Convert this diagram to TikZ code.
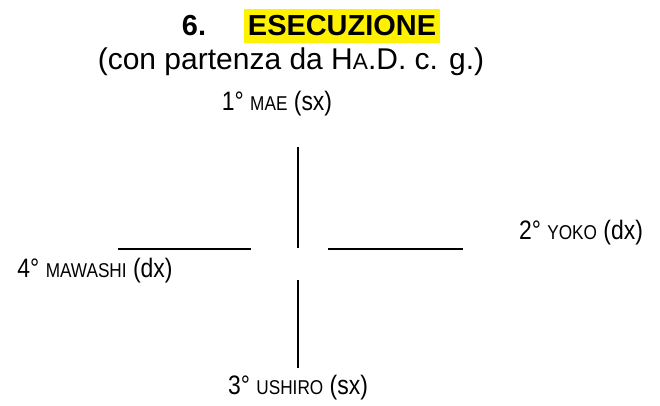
\documentclass[tikz,border=0pt]{standalone}
\usepackage{fontspec}
\setmainfont{Liberation Sans}
\newfontfamily\condfont[FakeStretch=0.86]{Liberation Sans}
\newcommand\mysc[1]{{\fontsize{15}{17}\selectfont #1}}
\begin{document}
\begin{tikzpicture}[x=0.75pt,y=-0.75pt,
  lbl/.style={inner sep=0pt,font=\condfont\fontsize{20}{22}\selectfont},
  ttl/.style={inner sep=0pt,font=\fontsize{21.7}{24}\selectfont\bfseries},
  leg/.style={line width=1.2pt,black}]
\useasboundingbox (0,0) rectangle (660,405);
\node[ttl] (num) at (194,26) {6.};
\node[ttl,fill=yellow,inner xsep=3pt,inner ysep=5pt] (head) at (342,26) {ESECUZIONE};
\node[inner sep=0pt,font=\fontsize{22.5}{25}\selectfont] (sub) at (291,62) {(con partenza da H{\fontsize{17}{19}\selectfont A}.D. c. g.)};
\node[lbl] (mae) at (277,104) {1° \mysc{MAE} (sx)};
\node[lbl] (yoko) at (581,233) {2° \mysc{YOKO} (dx)};
\node[lbl] (ushiro) at (298,388) {3° \mysc{USHIRO} (sx)};
\node[lbl] (mawashi) at (95,271) {4° \mysc{MAWASHI} (dx)};
\coordinate (t1) at (298,147); \coordinate (t2) at (298,248);
\coordinate (b1) at (298,280); \coordinate (b2) at (298,368);
\coordinate (l1) at (118,249); \coordinate (l2) at (251,249);
\coordinate (r1) at (328,249); \coordinate (r2) at (463,249);
\draw[leg] (t1) -- (t2);
\draw[leg] (b1) -- (b2);
\draw[leg] (l1) -- (l2);
\draw[leg] (r1) -- (r2);
\end{tikzpicture}
\end{document}
